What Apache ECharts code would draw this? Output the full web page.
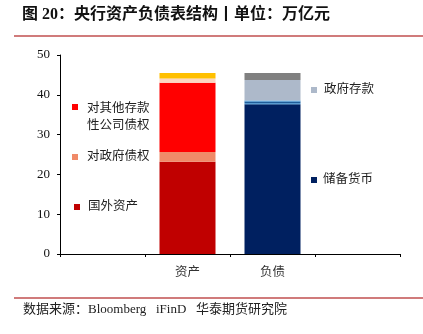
<!DOCTYPE html>
<html><head><meta charset="utf-8">
<script src="https://cdn.jsdelivr.net/npm/echarts@6/dist/echarts.min.js"></script>
<style>html,body{margin:0;padding:0;background:#fff}#c{width:423px;height:334px}</style>
</head><body><div id="c"></div>
<script>
const categories = ['', '资产', '负债', ''];
const foreignAssets = [null, 23.2, null, null];
const govClaims = [null, 2.4, null, null];
const otherDepClaims = [null, 17.4, null, null];
const otherAssets1 = [null, 1.1, null, null];
const otherAssets2 = [null, 1.35, null, null];
const reserveMoney = [null, null, 37.6, null];
const liabA = [null, null, 0.25, null];
const liabB = [null, null, 0.45, null];
const liabC = [null, null, 0.25, null];
const govDeposits = [null, null, 5.2, null];
const otherLiab = [null, null, 1.75, null];
const yTicks = [0, 10, 20, 30, 40, 50];

const chart = echarts.init(document.getElementById('c'));
function s(name, data, color) {
  return {name, type: 'bar', stack: 'a', data, barWidth: 56, itemStyle: {color}, emphasis: {disabled: true}};
}
const cjk = '"Noto Sans CJK SC", sans-serif';
const labelStyle = {fill: '#222', font: '12.5px ' + cjk};
chart.setOption({
  animation: false,
  grid: {left: 60, right: 23, top: 55, bottom: 80},
  xAxis: {
    type: 'category', data: categories,
    axisLine: {lineStyle: {color: '#000', width: 1}},
    axisTick: {show: true, length: 3, lineStyle: {color: '#000'}},
    axisLabel: {color: '#333', fontSize: 12.5, fontFamily: cjk, margin: 11}
  },
  yAxis: {
    type: 'value', min: yTicks[0], max: yTicks[yTicks.length - 1], interval: 10,
    splitLine: {show: false},
    axisLine: {show: true, lineStyle: {color: '#000'}},
    axisTick: {show: true, length: 3, lineStyle: {color: '#000'}},
    axisLabel: {color: '#111', fontSize: 13, fontFamily: '"Liberation Serif", serif', margin: 10}
  },
  series: [
    s('国外资产', foreignAssets, '#c00000'),
    s('对政府债权', govClaims, '#f08a68'),
    s('对其他存款性公司债权', otherDepClaims, '#ff0000'),
    s('其他资产1', otherAssets1, '#fcd5c0'),
    s('其他资产2', otherAssets2, '#ffc000'),
    s('储备货币', reserveMoney, '#002060'),
    s('负债A', liabA, '#3a96dc'),
    s('负债B', liabB, '#1f5c99'),
    s('负债C', liabC, '#3a96dc'),
    s('政府存款', govDeposits, '#adb9ca'),
    s('其他负债', otherLiab, '#808080')
  ],
  graphic: [
    {type: 'text', left: 22, top: 7, style: {text: '图 20：央行资产负债表结构丨单位：万亿元', fill: '#111', font: 'bold 16px "Liberation Serif", "Noto Sans CJK SC", serif'}},
    {type: 'rect', shape: {x: 14, y: 35, width: 409, height: 2}, style: {fill: '#d07b7b'}},
    {type: 'rect', shape: {x: 14, y: 297, width: 409, height: 2}, style: {fill: '#d07b7b'}},
    {type: 'text', left: 23, top: 303, style: {text: '数据来源：Bloomberg   iFinD   华泰期货研究院', fill: '#222', font: '13px "Liberation Serif", "Noto Sans CJK SC", serif'}},
    {type: 'rect', shape: {x: 72, y: 104, width: 6, height: 6}, style: {fill: '#ff0000'}},
    {type: 'text', left: 87, top: 99, style: Object.assign({text: '对其他存款\n性公司债权', lineHeight: 17}, labelStyle)},
    {type: 'rect', shape: {x: 72, y: 154, width: 6, height: 6}, style: {fill: '#f08a68'}},
    {type: 'text', left: 87, top: 149, style: Object.assign({text: '对政府债权'}, labelStyle)},
    {type: 'rect', shape: {x: 74, y: 204, width: 6, height: 6}, style: {fill: '#c00000'}},
    {type: 'text', left: 88, top: 199, style: Object.assign({text: '国外资产'}, labelStyle)},
    {type: 'rect', shape: {x: 311, y: 87, width: 6, height: 6}, style: {fill: '#adb9ca'}},
    {type: 'text', left: 324, top: 82, style: Object.assign({text: '政府存款'}, labelStyle)},
    {type: 'rect', shape: {x: 311, y: 177, width: 6, height: 6}, style: {fill: '#002060'}},
    {type: 'text', left: 323, top: 172, style: Object.assign({text: '储备货币'}, labelStyle)}
  ]
});
</script></body></html>
